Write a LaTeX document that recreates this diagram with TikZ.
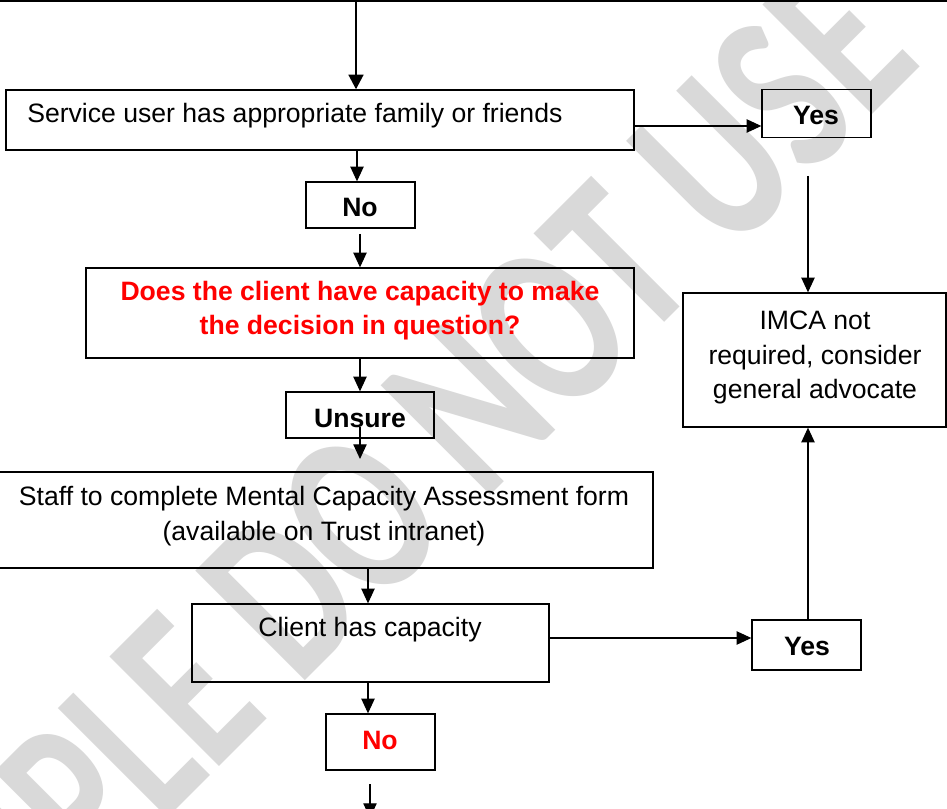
\documentclass[tikz,border=0pt]{standalone}
\usepackage{fontspec}
\setmainfont{Liberation Sans}
\newfontfamily\wmfont{Carlito}
\usetikzlibrary{arrows.meta}
\begin{document}
\begin{tikzpicture}[x=0.75pt,y=-0.75pt,
  boxs/.style={draw=black, line width=1pt, inner sep=0pt},
  txt/.style={inner sep=0pt, align=center, font=\fontsize{19.95pt}{25.9pt}\selectfont},
  btxt/.style={txt, font=\fontsize{19.95pt}{25.9pt}\selectfont\bfseries},
  arr/.style={draw=black, line width=0.85pt, -{Triangle[length=11pt,width=10pt]}},
  arrthick/.style={draw=black, line width=2pt, -{Triangle[length=11pt,width=11pt]}}]
\clip (0,0) rectangle (947,809);
\fill[white] (0,0) rectangle (947,809);
% watermark
\node[rotate=45, inner sep=0pt, text=black!15, font=\wmfont\bfseries\fontsize{128pt}{128pt}\selectfont] (wm) at (339,538) {\scalebox{1}[1.4]{SAMPLE DO NOT USE}};
% top line
\coordinate (tl) at (0,1.5);
\coordinate (tr) at (947,1.5);
\draw[line width=1.5pt] (tl) -- (tr);
% boxes
\node[boxs, minimum width=471pt, minimum height=45pt] (b1) at (320,120) {};
\node[boxs, minimum width=81.75pt, minimum height=36pt] (yes1) at (816.5,113.5) {};
\node[boxs, minimum width=197.25pt, minimum height=100.5pt] (imca) at (814.5,360) {};
\node[boxs, minimum width=81.75pt, minimum height=34.5pt] (no1) at (360.5,205) {};
\node[boxs, minimum width=411pt, minimum height=67.5pt] (red) at (360,313) {};
\node[boxs, minimum width=111pt, minimum height=34.5pt] (uns) at (360,415) {};
\node[boxs, minimum width=491.25pt, minimum height=72pt] (staff) at (325.5,520) {};
\node[boxs, minimum width=267.75pt, minimum height=58.5pt] (client) at (370.5,643) {};
\node[boxs, minimum width=81.75pt, minimum height=37.5pt] (yes2) at (806.5,645) {};
\node[boxs, minimum width=81.75pt, minimum height=42pt] (no2) at (380.5,742) {};
% texts
\node[txt, anchor=west] (b1t) at (27,116) {Service user has appropriate family or friends};
\node[btxt] (yes1t) at (816,115) {Yes};
\node[txt] (imcat) at (815,357.5) {IMCA not\\required, consider\\general advocate};
\node[btxt] (no1t) at (360,207) {No};
\node[btxt, text=red] (redt) at (360,310.5) {Does the client have capacity to make\\the decision in question?};
\node[btxt] (unst) at (360,418) {Unsure};
\node[txt] (stafft) at (324,516) {Staff to complete Mental Capacity Assessment form\\(available on Trust intranet)};
\node[txt] (clientt) at (370,630) {Client has capacity};
\node[btxt] (yes2t) at (807,646) {Yes};
\node[btxt, text=red] (no2t) at (380,740) {No};
% connectors
\coordinate (topin) at (356,0);
\draw[arrthick] (topin) -- (b1.north -| topin);
\draw[arr] (b1.east |- 0,126) -- (yes1.west |- 0,126);
\coordinate (y1s) at (808,176);
\draw[arr] (y1s) -- (imca.north -| y1s);
\draw[arr] (b1.south -| 357,0) -- (no1.north -| 357,0);
\coordinate (n1s) at (360,234);
\draw[arr] (n1s) -- (red.north -| n1s);
\draw[arr] (red.south -| 360,0) -- (uns.north -| 360,0);
\coordinate (us) at (360,427);
\coordinate (ue) at (360,459);
\draw[arr] (us) -- (ue);
\draw[arr] (staff.south -| 368,0) -- (client.north -| 368,0);
\draw[arr] (client.east |- 0,638) -- (yes2.west |- 0,638);
\draw[arr] (yes2.north -| 808,0) -- (imca.south -| 808,0);
\draw[arr] (client.south -| 368,0) -- (no2.north -| 368,0);
\coordinate (n2s) at (370,784);
\coordinate (n2e) at (370,818);
\draw[arr] (n2s) -- (n2e);
\end{tikzpicture}
\end{document}
